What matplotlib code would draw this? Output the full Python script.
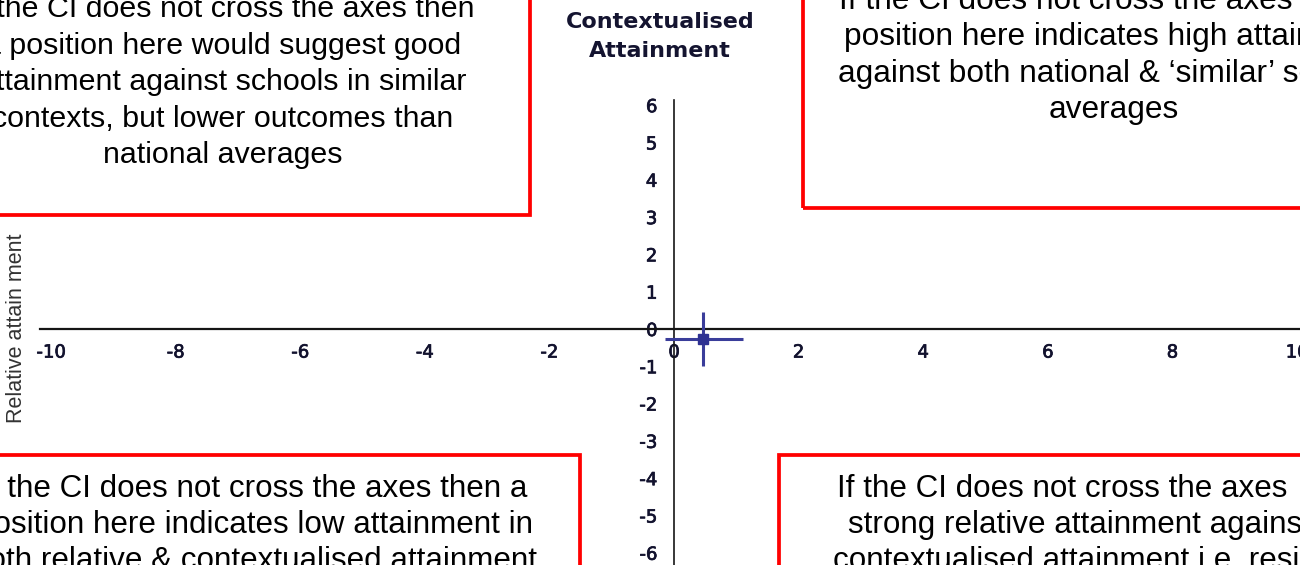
import matplotlib
matplotlib.use("Agg")
import matplotlib.pyplot as plt
import matplotlib.patheffects as pe
from matplotlib.patches import Rectangle

plt.rcParams['axes.unicode_minus'] = False

# ---------------- data ----------------
school_x = [0.47]
school_y = [-0.27]
ci_x_low = [-0.15]
ci_x_high = [1.11]
ci_y_low = [-1.00]
ci_y_high = [0.45]

x_ticks = [-10, -8, -6, -4, -2, 0, 2, 4, 6, 8, 10]
x_tick_labels = ["-10", "-8", "-6", "-4", "-2", "0", "2", "4", "6", "8", "10"]
y_ticks = [-6, -5, -4, -3, -2, -1, 0, 1, 2, 3, 4, 5, 6]
y_tick_labels = ["-6", "-5", "-4", "-3", "-2", "-1", "0", "1", "2", "3", "4", "5", "6"]

title_lines = ["Contextualised", "Attainment"]
ylabel_text = "Relative attain ment"

box_top_left = ["If the CI does not cross the axes then",
                "a position here would suggest good",
                "attainment against schools in similar",
                "contexts, but lower outcomes than",
                "national averages"]
box_top_right = ["If the CI does not cross the axes then a",
                 "position here indicates high attainment",
                 "against both national & \u2018similar\u2019 schools",
                 "averages"]
box_bottom_left = ["If the CI does not cross the axes then a",
                   "position here indicates low attainment in",
                   "both relative & contextualised attainment"]
box_bottom_right = ["If the CI does not cross the axes",
                    "strong relative attainment against",
                    "contextualised attainment i.e. resilience"]

# ---------------- layout ----------------
W, H = 1300, 565
fig = plt.figure(figsize=(W / 100, H / 100), dpi=100)
ax = fig.add_axes([0, 0, 1, 1])
ax.set_facecolor("white")

x0_px, x_unit = 674, 62.3
y0_px, y_unit = 329, 37.3
ax.set_xlim(-x0_px / x_unit, (W - x0_px) / x_unit)
ax.set_ylim((y0_px - H) / y_unit, y0_px / y_unit)

def fx(px):
    return px / W

def fy(py):
    return 1 - py / H

axis_col = "#151515"
tick_col = "#12122e"
ax.spines["top"].set_visible(False)
ax.spines["right"].set_visible(False)
ax.spines["bottom"].set_position(("data", 0))
ax.spines["left"].set_position(("data", 0))
ax.spines["bottom"].set_bounds((40 - x0_px) / x_unit, (W + 10 - x0_px) / x_unit)
ax.spines["left"].set_bounds((y0_px - H - 10) / y_unit, (y0_px - 100) / y_unit)
ax.spines["bottom"].set_linewidth(1.6)
ax.spines["left"].set_linewidth(1.2)
ax.spines["bottom"].set_color(axis_col)
ax.spines["left"].set_color(axis_col)

ax.set_xticks(x_ticks)
ax.set_xticklabels(x_tick_labels)
ax.set_yticks(y_ticks)
ax.set_yticklabels(y_tick_labels)
ax.tick_params(axis="x", length=0, pad=10.5, labelsize=13, labelcolor=tick_col)
ax.tick_params(axis="y", length=0, pad=12, labelsize=13, labelcolor=tick_col)
for lab in ax.get_xticklabels() + ax.get_yticklabels():
    lab.set_path_effects([pe.withStroke(linewidth=0.5, foreground=tick_col)])

# error bar point
ax.errorbar(school_x, school_y,
            xerr=[[school_x[0] - ci_x_low[0]], [ci_x_high[0] - school_x[0]]],
            yerr=[[school_y[0] - ci_y_low[0]], [ci_y_high[0] - school_y[0]]],
            fmt="s", color="#2e3192", ecolor="#3a3d9a", elinewidth=2.2,
            markersize=7.5, capsize=0, zorder=5)

# title
title_font = dict(family="DejaVu Sans", weight="bold", fontsize=16, color="#141430",
                  ha="center", va="baseline")
for i, line in enumerate(title_lines):
    fig.text(fx(660), fy(28 + i * 29), line, **title_font)

# y label
fig.text(fx(17), fy(328), ylabel_text, rotation=90, ha="center", va="center",
         fontsize=15.5, family="Liberation Sans", color="#333333")

# red boxes
red = "#ff0000"
boxes = [
    (-50, -50, 530, 215),
    (803, -50, 1350, 208),
    (-50, 455, 580, 620),
    (779, 455, 1350, 620),
]
for (l, t, r, b) in boxes:
    fig.patches.append(Rectangle((fx(l), fy(b)), fx(r) - fx(l), fy(t) - fy(b),
                                 transform=fig.transFigure, fill=False,
                                 edgecolor=red, linewidth=2.7))

def draw_lines(lines, xs, bases, size, ha="center"):
    for line, x, b in zip(lines, xs, bases):
        fig.text(fx(x), fy(b), line, ha=ha, va="baseline",
                 fontsize=size, family="Liberation Sans", color="black")

draw_lines(box_top_left, [223] * 5, [17, 53.5, 90, 126.5, 163], 21.9)
draw_lines(box_top_right, [1114] * 4, [9, 45.5, 82, 118.5], 22.8)
draw_lines(box_bottom_left, [254] * 3, [497, 533, 569], 22.6)
draw_lines(box_bottom_right, [837, 848, 833], [497, 533, 569], 22.6, ha="left")

fig.savefig("out.png", dpi=100)
